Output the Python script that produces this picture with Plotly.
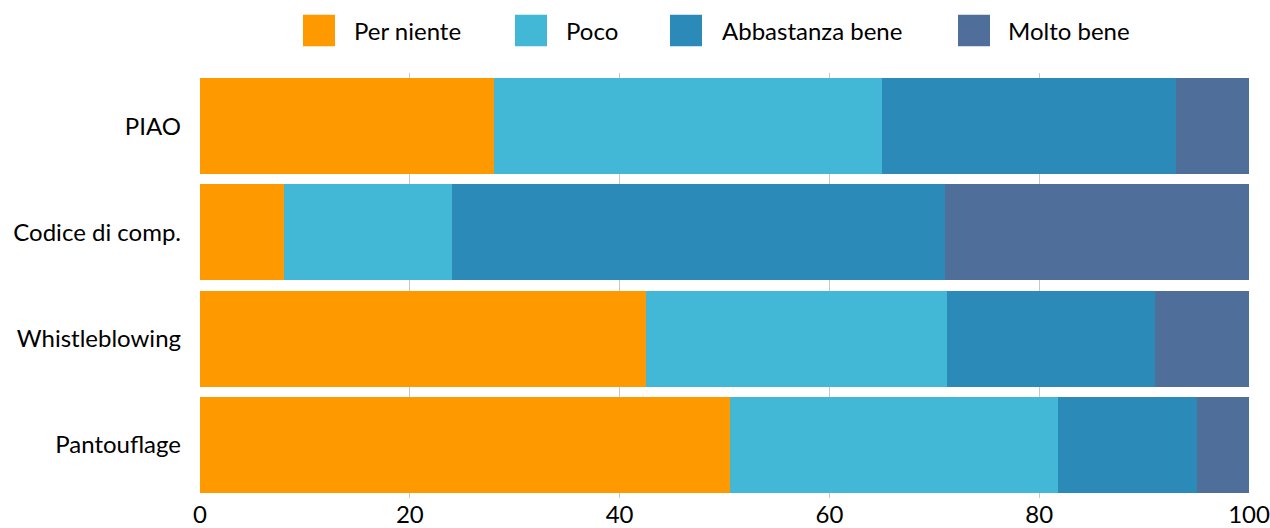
import plotly.graph_objects as go

# Survey: how well respondents know each topic (percent of answers)
categories = ["PIAO", "Codice di comp.", "Whistleblowing", "Pantouflage"]
levels = ["Per niente", "Poco", "Abbastanza bene", "Molto bene"]
per_niente = [28.0, 8.0, 42.5, 50.5]
poco = [37.0, 16.0, 28.7, 31.3]
abbastanza = [28.0, 47.0, 19.8, 13.2]
molto = [7.0, 29.0, 9.0, 5.0]
x_ticks = [0, 20, 40, 60, 80, 100]

colors = ["#FF9900", "#42B7D6", "#2C8AB8", "#4F6F9A"]
series = [per_niente, poco, abbastanza, molto]

FONT = "Lato"
W, H = 1270, 528
L, R = 200, 1249          # plot area, pixels
T, B = 72.8, 498.2

fig = go.Figure()
for name, vals, col in zip(levels, series, colors):
    fig.add_trace(go.Bar(
        y=categories, x=vals, name=name, orientation="h",
        marker=dict(color=col, line=dict(width=0)),
        showlegend=False, hoverinfo="x+y+name",
    ))


def px_x(p):
    return (p - L) / (R - L)


def px_y(p):
    return (B - p) / (B - T)


# Legend row: colour square + label
legend_sq = [303, 515, 670, 958]
legend_txt = [352, 564, 720, 1006]
shapes = []
annotations = []
for name, col, sx, tx in zip(levels, colors, legend_sq, legend_txt):
    shapes.append(dict(
        type="rect", xref="paper", yref="paper",
        x0=px_x(sx), x1=px_x(sx + 32), y0=px_y(46), y1=px_y(14.5),
        fillcolor=col, line=dict(width=0),
    ))
    annotations.append(dict(
        xref="paper", yref="paper", x=px_x(tx), y=px_y(30),
        xanchor="left", yanchor="middle", showarrow=False,
        text=name, font=dict(family=FONT, size=24, color="#000000"),
    ))

fig.update_layout(
    width=W, height=H,
    margin=dict(l=L, r=W - R, t=T, b=H - B, pad=0, autoexpand=False),
    paper_bgcolor="white", plot_bgcolor="white",
    barmode="stack", bargap=0.097,
    shapes=shapes, annotations=annotations,
    xaxis=dict(
        range=[0, 100], tickvals=x_ticks, ticktext=[str(v) for v in x_ticks],
        showgrid=True, gridcolor="#C8C8C8", gridwidth=1.3,
        zeroline=False, showline=False, ticks="",
        tickfont=dict(family=FONT, size=24, color="#000000"),
        ticklabelstandoff=0, fixedrange=True, automargin=False,
    ),
    yaxis=dict(
        categoryorder="array", categoryarray=categories[::-1],
        showgrid=False, zeroline=False, showline=False, ticks="",
        tickfont=dict(family=FONT, size=24, color="#000000"),
        ticklabelstandoff=18, fixedrange=True, automargin=False,
    ),
    showlegend=False,
)

fig.write_html("out.html")
